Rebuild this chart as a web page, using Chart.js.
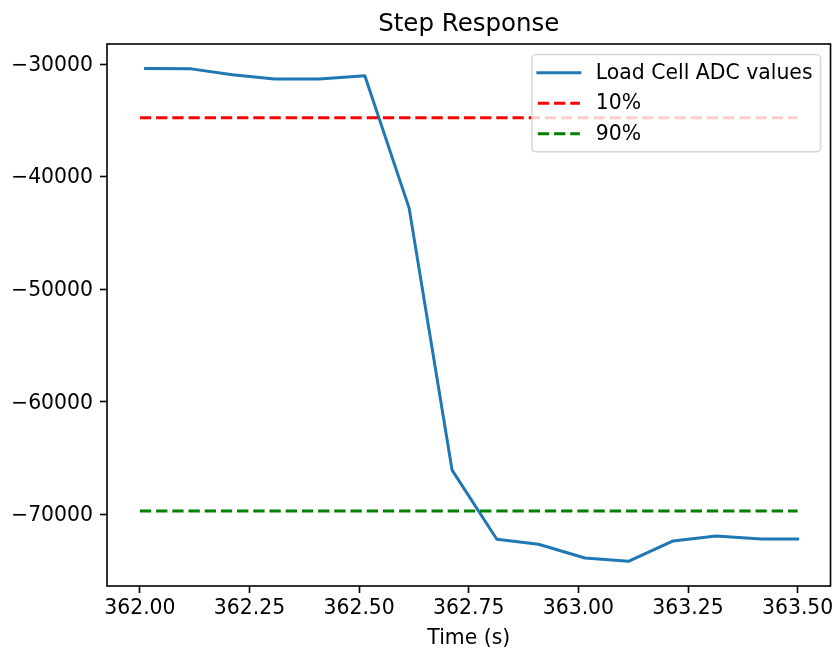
<!DOCTYPE html>
<html>
<head>
<meta charset="utf-8">
<script src="https://cdn.jsdelivr.net/npm/chart.js@4.4.0/dist/chart.umd.min.js"></script>
<style>
  html, body { margin: 0; padding: 0; background: #ffffff; }
  #wrap { width: 837px; height: 653px; position: relative; }
</style>
</head>
<body>
<div id="wrap"><canvas id="c" width="837" height="653"></canvas></div>
<script>
// Sample times (s) and load cell readings around the step
const timeS = [362.013, 362.117, 362.211, 362.307, 362.409, 362.513, 362.614, 362.712,
               362.814, 362.909, 363.015, 363.114, 363.216, 363.314, 363.417, 363.500];
const adcValues = [-30380, -30420, -30934, -31317, -31317, -31023, -42794, -66076,
                   -72215, -72660, -73879, -74180, -72367, -71922, -72189, -72189];

// 10% / 90% threshold levels and the time span they are drawn across
const level10 = -34760;
const level90 = -69700;
const levelSpan = [362.0, 363.5];

// Axis ticks
const xTickValues = [362.0, 362.25, 362.5, 362.75, 363.0, 363.25, 363.5];
const yTickValues = [-70000, -60000, -50000, -40000, -30000];

const seriesLabels = ['Load Cell ADC values', '10%', '90%'];
const chartTitle = 'Step Response';
const xAxisTitle = 'Time (s)';

const FONT = 'DejaVu Sans';
const LW = 3;
const DASH = [11.3, 4.9];

// Black frame on all four sides, title above the plot, legend box in the upper right
const framePlugin = {
  id: 'frameAndLegend',
  afterDatasetsDraw(chart) {
    const ctx = chart.ctx;
    const ca = chart.chartArea;
    ctx.save();
    ctx.strokeStyle = '#000';
    ctx.lineWidth = 1.6;
    ctx.strokeRect(ca.left, ca.top, ca.right - ca.left, ca.bottom - ca.top);

    // title
    ctx.fillStyle = '#000';
    ctx.font = '24.5px "' + FONT + '"';
    ctx.textAlign = 'center';
    ctx.textBaseline = 'alphabetic';
    ctx.fillText(chartTitle, (ca.left + ca.right) / 2, ca.top - 13);

    // legend
    const fs = 20.4;
    ctx.font = fs + 'px "' + FONT + '"';
    const textW = Math.max(...chart.data.datasets.map(d => ctx.measureText(d.label).width));
    const padL = 6, padR = 8, padV = 8, handle = 42, gap = 16, rowH = 20.3, spacing = 10.2;
    const w = padL + handle + gap + textW + padR;
    const h = padV * 2 + rowH * 3 + spacing * 2;
    const right = ca.right - 10;
    const left = right - w;
    const top = ca.top + 10.5;
    const r = 4;
    ctx.beginPath();
    ctx.moveTo(left + r, top);
    ctx.lineTo(right - r, top);
    ctx.arcTo(right, top, right, top + r, r);
    ctx.lineTo(right, top + h - r);
    ctx.arcTo(right, top + h, right - r, top + h, r);
    ctx.lineTo(left + r, top + h);
    ctx.arcTo(left, top + h, left, top + h - r, r);
    ctx.lineTo(left, top + r);
    ctx.arcTo(left, top, left + r, top, r);
    ctx.closePath();
    ctx.fillStyle = 'rgba(255,255,255,0.8)';
    ctx.fill();
    ctx.strokeStyle = 'rgba(204,204,204,0.8)';
    ctx.lineWidth = 1.5;
    ctx.stroke();

    chart.data.datasets.forEach((d, i) => {
      const cy = top + padV + rowH / 2 + i * (rowH + spacing);
      const hx = left + padL;
      ctx.beginPath();
      ctx.setLineDash(d.borderDash || []);
      ctx.lineCap = d.borderDash ? 'butt' : 'square';
      ctx.strokeStyle = d.borderColor;
      ctx.lineWidth = d.borderWidth;
      ctx.moveTo(hx, cy);
      ctx.lineTo(hx + handle, cy);
      ctx.stroke();
      ctx.setLineDash([]);
      ctx.fillStyle = '#000';
      ctx.textAlign = 'left';
      ctx.textBaseline = 'middle';
      ctx.fillText(d.label, hx + handle + gap, cy + 1);
    });
    ctx.restore();
  }
};

const tickFont = { family: FONT, size: 20.4 };

new Chart(document.getElementById('c'), {
  type: 'line',
  data: {
    datasets: [
      {
        label: seriesLabels[0],
        data: timeS.map((t, i) => ({ x: t, y: adcValues[i] })),
        borderColor: '#1f77b4',
        borderWidth: LW,
        borderCapStyle: 'square',
        borderJoinStyle: 'round',
        pointRadius: 0,
        tension: 0,
        fill: false,
        order: 3
      },
      {
        label: seriesLabels[1],
        data: levelSpan.map(t => ({ x: t, y: level10 })),
        borderColor: '#ff0000',
        borderWidth: LW,
        borderDash: DASH,
        borderCapStyle: 'butt',
        pointRadius: 0,
        fill: false,
        order: 2
      },
      {
        label: seriesLabels[2],
        data: levelSpan.map(t => ({ x: t, y: level90 })),
        borderColor: '#008000',
        borderWidth: LW,
        borderDash: DASH,
        borderCapStyle: 'butt',
        pointRadius: 0,
        fill: false,
        order: 1
      }
    ]
  },
  options: {
    responsive: false,
    animation: false,
    devicePixelRatio: 1,
    layout: { padding: { top: 44, left: 0, right: 4, bottom: 0 } },
    plugins: {
      legend: { display: false },
      title: { display: false },
      tooltip: { enabled: false }
    },
    scales: {
      x: {
        type: 'linear',
        min: 361.925,
        max: 363.575,
        afterBuildTicks: s => { s.ticks = xTickValues.map(v => ({ value: v })); },
        afterFit: s => { s.height = 67; },
        ticks: {
          callback: v => Number(v).toFixed(2),
          font: tickFont,
          color: '#000',
          padding: 3.5,
          maxRotation: 0,
          autoSkip: false
        },
        grid: {
          display: true,
          drawOnChartArea: false,
          drawTicks: true,
          tickLength: 7,
          tickWidth: 1.6,
          tickColor: '#000'
        },
        border: { display: false },
        title: {
          display: true,
          text: xAxisTitle,
          font: { family: FONT, size: 20.4 },
          color: '#000',
          padding: { top: 0, bottom: 2 }
        }
      },
      y: {
        type: 'linear',
        min: -76370,
        max: -28210,
        afterBuildTicks: s => { s.ticks = yTickValues.map(v => ({ value: v })); },
        afterFit: s => { s.width = 107; },
        ticks: {
          callback: v => (v < 0 ? '\u2212' : '') + Math.abs(v),
          font: tickFont,
          color: '#000',
          padding: 7,
          labelOffset: 1.5
        },
        grid: {
          display: true,
          drawOnChartArea: false,
          drawTicks: true,
          tickLength: 7,
          tickWidth: 1.6,
          tickColor: '#000'
        },
        border: { display: false }
      }
    }
  },
  plugins: [framePlugin]
});
</script>
</body>
</html>
